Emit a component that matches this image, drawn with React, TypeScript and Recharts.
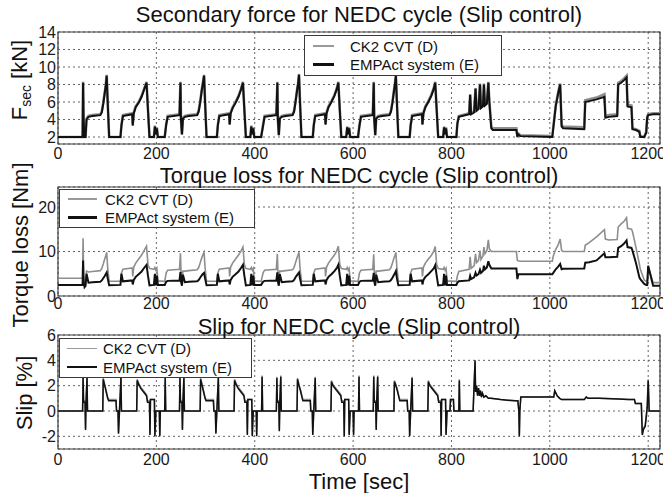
import { LineChart, Line, XAxis, YAxis, CartesianGrid, ReferenceArea } from 'recharts';

const W = 663;
const H = 493;
const FONT = '"Liberation Sans", Arial, Helvetica, sans-serif';
const X_MAX = 1224;
const Y_AXIS_W = 40;
const X_AXIS_H = 20;

const seriesNames = ['CK2 CVT (D)', 'EMPAct system (E)'];
const timeTicks = [0, 200, 400, 600, 800, 1000, 1200];
const forceTicks = [2, 4, 6, 8, 10, 12, 14];
const torqueTicks = [0, 10, 20];
const slipTicks = [-2, 0, 2, 4, 6];

// time axis shared by the force and torque loss plots [s]
const forceTime = [
    0, 50, 51, 52, 54, 56, 58, 62, 70, 86, 89, 92, 95, 97, 99, 101, 104, 127, 129, 132,
    151, 152, 154, 158, 164, 170, 175, 180, 183, 186, 195, 197, 199, 201, 203, 217,
    220, 223, 247, 249, 250, 252, 254, 258, 266, 283, 286, 289, 292, 294, 297, 299, 302, 323, 325, 328,
    348, 349, 351, 355, 361, 367, 372, 376, 379, 382, 391, 393, 395, 397, 399, 413,
    417, 420, 444, 446, 447, 449, 451, 455, 463, 477, 480, 483, 486, 488, 490, 492, 495, 518, 520, 523,
    543, 544, 546, 550, 556, 562, 567, 570, 573, 576, 586, 588, 590, 592, 594, 610,
    613, 616, 640, 642, 643, 645, 647, 651, 659, 674, 677, 680, 683, 685, 687, 689, 692, 715, 717, 720,
    740, 741, 743, 747, 753, 759, 764, 767, 770, 773, 783, 785, 787, 789, 791, 810,
    812, 815, 836, 838, 840, 846, 849, 851, 855, 858, 860, 864, 866, 868, 872, 875, 877, 881, 884, 932,
    934, 936, 940, 1005, 1007, 1012, 1017, 1021, 1024, 1027, 1070, 1072, 1080, 1095, 1111, 1113, 1120, 1137, 1139, 1145,
    1151, 1156, 1158, 1166, 1168, 1175, 1182, 1184, 1192, 1196, 1198, 1200, 1210, 1224,
];

// secondary force [kN]
const forceCk2 = [
    2, 2, 8.3, 4.1, 2.0, 2.0, 4.1, 4.4, 4.5, 4.6, 4.9, 5.9, 7.1, 7.9, 9.1, 6.1, 2.0, 2.0, 3.4, 4.5,
    4.7, 3.4, 4.8, 5.5, 6.0, 6.7, 7.5, 8.3, 5.1, 2.0, 2.0, 3.3, 2.3, 3.1, 2.0, 2.0,
    3.5, 4.4, 4.6, 8.3, 4.1, 2.3, 4.2, 4.4, 4.5, 4.6, 5.0, 6.0, 7.3, 8.0, 9.1, 6.1, 2.0, 2.0, 3.4, 4.5,
    4.7, 3.5, 4.8, 5.4, 6.0, 6.7, 7.5, 8.3, 5.1, 2.0, 2.0, 3.3, 2.3, 3.1, 2.0, 2.0,
    3.4, 4.4, 4.6, 8.3, 4.1, 2.2, 4.2, 4.4, 4.5, 4.6, 5.0, 6.1, 7.4, 8.1, 9.2, 6.1, 2.0, 2.0, 3.4, 4.5,
    4.7, 3.5, 4.8, 5.5, 6.1, 6.8, 7.6, 8.3, 5.1, 2.0, 2.0, 3.2, 2.3, 3.1, 2.0, 2.0,
    3.4, 4.4, 4.6, 8.3, 4.1, 2.2, 4.2, 4.4, 4.5, 4.6, 5.0, 6.0, 7.3, 8.1, 9.1, 6.1, 2.0, 2.0, 3.4, 4.5,
    4.7, 3.5, 4.8, 5.5, 6.1, 6.8, 7.6, 8.3, 5.1, 2.0, 2.0, 3.2, 2.3, 3.1, 2.0, 2.0,
    3.6, 4.4, 4.7, 6.9, 4.7, 4.9, 7.6, 5.1, 5.3, 8.1, 5.4, 5.6, 8.1, 5.7, 5.9, 8.3, 6.1, 3.2, 3.0, 3.0,
    2.1, 2.4, 2.2, 2.1, 3.1, 5.6, 7.1, 8.1, 3.4, 3.2, 3.1, 6.2, 6.3, 6.5, 6.9, 4.4, 4.5, 4.6, 8.2, 8.4,
    8.7, 9.0, 5.7, 5.6, 3.0, 2.9, 2.7, 2.1, 2.0, 2.6, 4.3, 4.6, 4.7, 4.7,
];
const forceEmp = [
    2, 2, 8.2, 4.0, 2.0, 2.0, 4.0, 4.3, 4.4, 4.5, 4.8, 5.8, 7.0, 7.8, 9.0, 6.0, 2.0, 2.0, 3.3, 4.4,
    4.6, 3.3, 4.7, 5.4, 5.9, 6.6, 7.4, 8.2, 5.0, 2.0, 2.0, 3.2, 2.3, 3.0, 2.0, 2.0,
    3.4, 4.3, 4.5, 8.2, 4.0, 2.3, 4.1, 4.3, 4.4, 4.5, 4.9, 5.9, 7.2, 7.9, 9.0, 6.0, 2.0, 2.0, 3.3, 4.4,
    4.6, 3.4, 4.7, 5.3, 5.9, 6.6, 7.4, 8.2, 5.0, 2.0, 2.0, 3.2, 2.3, 3.0, 2.0, 2.0,
    3.3, 4.3, 4.5, 8.2, 4.0, 2.2, 4.1, 4.3, 4.4, 4.5, 4.9, 6.0, 7.3, 8.0, 9.1, 6.0, 2.0, 2.0, 3.3, 4.4,
    4.6, 3.4, 4.7, 5.4, 6.0, 6.7, 7.5, 8.2, 5.0, 2.0, 2.0, 3.1, 2.3, 3.0, 2.0, 2.0,
    3.3, 4.3, 4.5, 8.2, 4.0, 2.2, 4.1, 4.3, 4.4, 4.5, 4.9, 5.9, 7.2, 8.0, 9.0, 6.0, 2.0, 2.0, 3.3, 4.4,
    4.6, 3.4, 4.7, 5.4, 6.0, 6.7, 7.5, 8.2, 5.0, 2.0, 2.0, 3.1, 2.3, 3.0, 2.0, 2.0,
    3.5, 4.3, 4.6, 6.8, 4.6, 4.8, 7.5, 5.0, 5.2, 8.0, 5.3, 5.5, 8.0, 5.6, 5.8, 8.2, 6.0, 3.0, 2.8, 2.8,
    2.0, 2.3, 2.1, 2.0, 3.0, 5.5, 7.0, 8.0, 3.2, 3.0, 2.9, 6.0, 6.1, 6.3, 6.6, 4.2, 4.3, 4.4, 8.0, 8.2,
    8.5, 8.8, 5.5, 5.4, 2.9, 2.8, 2.6, 2.0, 2.0, 2.5, 4.2, 4.5, 4.6, 4.6,
];

// torque loss [Nm]
const torqueCk2 = [
    4.0, 4.0, 13.0, 4.6, 3.2, 3.2, 5.6, 5.4, 5.5, 5.7, 6.2, 7.2, 8.3, 9.0, 9.8, 6.4, 3.3, 3.3, 5.2, 6.0,
    6.3, 4.4, 6.5, 7.4, 8.3, 9.2, 10.2, 11.2, 7.0, 6.2, 6.0, 6.4, 5.8, 6.2, 3.4, 3.3,
    5.2, 5.8, 6.0, 9.6, 5.8, 3.4, 5.6, 5.6, 5.7, 5.9, 6.4, 7.4, 8.5, 9.1, 9.8, 6.4, 3.3, 3.3, 5.2, 6.0,
    6.3, 4.4, 6.5, 7.4, 8.3, 9.2, 10.1, 11.0, 7.0, 6.2, 6.0, 6.4, 5.8, 6.2, 3.4, 3.3,
    5.2, 5.8, 6.0, 9.5, 5.8, 3.4, 5.6, 5.6, 5.7, 5.9, 6.4, 7.5, 8.6, 9.2, 9.8, 6.4, 3.3, 3.3, 5.2, 6.0,
    6.3, 4.4, 6.5, 7.4, 8.3, 9.2, 10.2, 11.2, 7.0, 6.2, 6.0, 6.4, 5.8, 6.2, 3.4, 3.3,
    5.2, 5.8, 6.0, 9.4, 5.8, 3.4, 5.6, 5.6, 5.7, 5.9, 6.4, 7.4, 8.5, 9.1, 9.8, 6.4, 3.3, 3.3, 5.2, 6.0,
    6.3, 4.4, 6.5, 7.4, 8.3, 9.1, 10.1, 11.1, 7.0, 6.2, 6.0, 6.4, 5.8, 6.2, 3.4, 3.3,
    4.5, 5.5, 6.0, 8.8, 6.2, 6.8, 9.5, 7.5, 8.0, 10.2, 8.2, 9.0, 11.0, 9.5, 10.2, 12.6, 10.6, 10.0, 10.0, 10.0,
    8.0, 7.9, 7.8, 7.8, 9.0, 10.5, 11.5, 12.8, 10.2, 10.0, 10.0, 11.4, 12.0, 13.3, 14.9, 12.8, 12.6, 12.7, 15.5, 16.2,
    16.8, 17.6, 15.2, 15.0, 14.5, 11.0, 7.2, 6.0, 3.6, 3.3, 3.2, 6.6, 3.0, 3.0,
];
const torqueEmp = [
    2.5, 2.5, 8.0, 3.2, 2.0, 2.3, 5.0, 3.0, 3.1, 3.2, 3.5, 4.0, 4.5, 4.9, 5.3, 4.0, 2.4, 2.5, 5.0, 3.3,
    3.5, 2.6, 3.6, 4.3, 4.9, 5.5, 6.3, 7.0, 4.5, 2.4, 2.5, 5.0, 2.4, 4.6, 2.5, 2.5,
    3.2, 3.4, 3.5, 5.4, 3.3, 2.3, 4.8, 3.1, 3.2, 3.3, 3.6, 4.1, 4.6, 4.9, 5.2, 4.0, 2.4, 2.5, 5.0, 3.3,
    3.5, 2.6, 3.6, 4.3, 4.9, 5.5, 6.3, 7.0, 4.5, 2.4, 2.5, 5.0, 2.4, 4.6, 2.5, 2.5,
    3.2, 3.4, 3.5, 5.3, 3.3, 2.3, 4.9, 3.1, 3.2, 3.3, 3.6, 4.2, 4.7, 5.0, 5.3, 4.0, 2.4, 2.5, 5.0, 3.3,
    3.5, 2.6, 3.6, 4.3, 4.9, 5.6, 6.3, 7.0, 4.5, 2.4, 2.5, 5.0, 2.4, 4.6, 2.5, 2.5,
    3.2, 3.4, 3.5, 5.2, 3.3, 2.3, 4.8, 3.1, 3.2, 3.3, 3.6, 4.1, 4.7, 5.1, 5.6, 4.0, 2.4, 2.5, 5.0, 3.3,
    3.5, 2.6, 3.6, 4.3, 4.9, 5.6, 6.2, 6.9, 4.5, 2.4, 2.5, 5.0, 2.4, 4.6, 2.5, 2.5,
    3.0, 3.3, 3.5, 4.5, 3.8, 4.2, 5.2, 4.6, 4.9, 5.9, 5.2, 5.6, 6.8, 6.0, 6.4, 7.8, 7.0, 6.2, 6.2, 6.2,
    3.8, 4.9, 4.9, 4.9, 5.2, 6.0, 6.6, 7.2, 6.0, 6.1, 6.2, 7.5, 7.6, 8.0, 9.6, 8.7, 8.7, 8.8, 10.8, 11.2,
    11.8, 12.5, 11.0, 10.8, 10.2, 7.5, 4.2, 3.8, 2.7, 2.5, 2.5, 6.8, 2.3, 2.3,
];

// slip [%]
const slipTime = [
    0, 50, 51, 52, 55, 56, 57, 59, 60, 62, 91, 92, 95, 98, 101, 103, 118, 119, 122, 123,
    125, 128, 129, 131, 160, 161, 164, 168, 172, 176, 180, 182, 186, 187, 188, 196, 197, 199,
    206, 207, 208, 217, 218, 219, 247, 248, 249, 252, 253, 254, 256, 257, 289, 290, 293, 296, 299, 301,
    316, 317, 320, 321, 323, 326, 327, 358, 359, 362, 366, 370, 374, 378, 380, 384, 385, 386, 394, 395, 397,
    403, 404, 405, 414, 415, 416, 444, 445, 446, 449, 450, 451, 453, 454, 486, 487, 490, 493, 496, 498,
    513, 514, 517, 518, 520, 523, 524, 555, 556, 559, 563, 567, 571, 575, 577, 581, 582, 583, 591, 592, 594,
    600, 601, 602, 611, 612, 613, 641, 642, 643, 646, 647, 648, 650, 651, 683, 684, 687, 690, 693, 695,
    710, 711, 714, 715, 717, 720, 721, 752, 753, 756, 760, 764, 768, 772, 774, 778, 779, 780, 788, 789, 791,
    797, 798, 804, 805, 815, 816, 817, 844, 846, 848, 849, 851, 853, 855, 857, 859, 861, 863, 866, 870,
    875, 880, 900, 930, 935, 937, 938, 939, 941, 1005, 1008, 1010, 1015, 1020, 1024, 1070, 1074, 1078, 1100, 1140,
    1160, 1172, 1174, 1186, 1188, 1190, 1194, 1198, 1200, 1202, 1224,
];
const slipCk2 = [
    0, 0, 2.7, 0.8, 0.8, -1.4, 0.8, 2.7, 0, 0, 0, 2.6, 2.1, 1.6, 1.1, 0.9, 0.9, 0, 0, -1.7,
    0, 2.7, 0, 0, 0, 2.5, 2.2, 1.9, 1.7, 1.5, 1.3, 0.8, 0.8, -1.8, 0.9, 0.9, -1.9, 0,
    0, -1.9, 0, 0, 2.7, 0, 0, 2.7, 0.8, 0.8, -1.4, 0.8, 2.7, 0, 0, 2.6, 2.1, 1.6, 1.1, 0.9,
    0.9, 0, 0, -1.7, 0, 2.7, 0, 0, 2.5, 2.2, 1.9, 1.7, 1.5, 1.3, 0.8, 0.8, -1.8, 0.9, 0.9, -1.9, 0,
    0, -1.9, 0, 0, 2.8, 0, 0, 2.7, 0.8, 0.8, -1.5, 0.8, 2.8, 0, 0, 2.6, 2.1, 1.7, 1.2, 0.9,
    0.9, 0, 0, -1.8, 0, 2.7, 0, 0, 2.4, 2.1, 1.9, 1.7, 1.5, 1.3, 0.8, 0.8, -1.9, 0.9, 0.9, -1.8, 0,
    0, -1.8, 0, 0, 2.8, 0, 0, 2.8, 0.8, 0.8, -1.4, 0.8, 2.8, 0, 0, 2.4, 2.1, 1.7, 1.2, 0.9,
    0.9, 0, 0, -1.9, 0, 2.7, 0, 0, 2.4, 2.1, 1.9, 1.7, 1.5, 1.3, 0.8, 0.8, -1.9, 0.9, 0.9, -1.8, 0,
    0, 0.9, 0.9, 0, 0, 2.5, 0, 0, 2.1, 3.9, 1.6, 2.0, 1.3, 1.8, 1.3, 1.6, 1.2, 1.4, 1.1, 1.2,
    1.0, 1.0, 0.9, 0.8, 0.8, 0, -1.9, 0, 1.1, 1.1, 1.1, 1.6, 1.2, 1.0, 0.9, 0.9, 1.1, 1.0, 1.0, 0.95,
    0.9, 0.9, 0.6, 0.6, -1.8, -1.4, -1.1, 0.3, 2.5, 0, 0,
];
const slipEmp = [
    0, 0, 2.6, 0.7, 0.7, -1.5, 0.7, 2.6, 0, 0, 0, 2.5, 2.0, 1.5, 1.0, 0.8, 0.8, 0, 0, -1.8,
    0, 2.6, 0, 0, 0, 2.4, 2.1, 1.8, 1.6, 1.4, 1.2, 0.7, 0.7, -1.9, 0.9, 0.9, -2.0, 0,
    0, -2.0, 0, 0, 2.6, 0, 0, 2.6, 0.7, 0.7, -1.5, 0.7, 2.6, 0, 0, 2.5, 2.0, 1.5, 1.0, 0.8,
    0.8, 0, 0, -1.8, 0, 2.6, 0, 0, 2.4, 2.1, 1.8, 1.6, 1.4, 1.2, 0.7, 0.7, -1.9, 0.9, 0.9, -2.0, 0,
    0, -2.0, 0, 0, 2.7, 0, 0, 2.6, 0.7, 0.7, -1.6, 0.7, 2.7, 0, 0, 2.5, 2.0, 1.6, 1.1, 0.8,
    0.8, 0, 0, -1.9, 0, 2.6, 0, 0, 2.3, 2.0, 1.8, 1.6, 1.4, 1.2, 0.7, 0.7, -2.0, 0.9, 0.9, -1.9, 0,
    0, -1.9, 0, 0, 2.7, 0, 0, 2.7, 0.7, 0.7, -1.5, 0.7, 2.7, 0, 0, 2.3, 2.0, 1.6, 1.1, 0.8,
    0.8, 0, 0, -2.0, 0, 2.6, 0, 0, 2.3, 2.0, 1.8, 1.6, 1.4, 1.2, 0.7, 0.7, -2.0, 0.9, 0.9, -1.9, 0,
    0, 0.9, 0.9, 0, 0, 2.4, 0, 0, 2.0, 4.0, 1.5, 2.0, 1.2, 1.8, 1.2, 1.6, 1.1, 1.4, 1.1, 1.2,
    1.0, 1.0, 0.9, 0.8, 0.8, 0, -2.0, 0, 1.1, 1.1, 1.1, 1.6, 1.2, 1.0, 0.9, 0.9, 1.1, 1.0, 1.0, 0.95,
    0.9, 0.9, 0.6, 0.6, -1.9, -1.5, -1.2, 0.3, 2.4, 0, 0,
];

function toRows(time: number[], ck2: number[], emp: number[]) {
    return time.map((t, i) => ({ t, ck2: ck2[i], emp: emp[i] }));
}

const tickStyle = { fontSize: 16, fill: '#1a1a1a', fontFamily: FONT };

type PanelProps = {
    data: { t: number; ck2: number; emp: number }[];
    top: number;
    bottom: number;
    yDomain: [number, number];
    yTicks: number[];
    xTickMargin: number;
    ck2Width: number;
    empWidth: number;
};

function Panel({ data, top, bottom, yDomain, yTicks, xTickMargin, ck2Width, empWidth }: PanelProps) {
    return (
        <div style={{ position: 'absolute', left: 0, top: 0 }}>
            <LineChart
                width={W}
                height={H}
                data={data}
                margin={{ top, right: W - 660, bottom: H - bottom - X_AXIS_H, left: 58 - Y_AXIS_W }}
            >
                <CartesianGrid stroke="#666" strokeDasharray="2 3" strokeWidth={1} />
                <XAxis
                    type="number"
                    dataKey="t"
                    domain={[0, X_MAX]}
                    ticks={timeTicks}
                    interval={0}
                    allowDataOverflow
                    height={X_AXIS_H}
                    tickSize={0}
                    tickMargin={xTickMargin}
                    axisLine={false}
                    tickLine={false}
                    tick={tickStyle}
                />
                <YAxis
                    type="number"
                    domain={yDomain}
                    ticks={yTicks}
                    interval={0}
                    allowDataOverflow
                    width={Y_AXIS_W}
                    tickSize={0}
                    tickMargin={2}
                    axisLine={false}
                    tickLine={false}
                    tick={tickStyle}
                />
                <ReferenceArea
                    x1={0}
                    x2={X_MAX}
                    y1={yDomain[0]}
                    y2={yDomain[1]}
                    fill="none"
                    stroke="#3a3a3a"
                    strokeWidth={1.2}
                    fillOpacity={0}
                />
                <Line
                    type="linear"
                    dataKey="ck2"
                    stroke="#8e8e8e"
                    strokeWidth={ck2Width}
                    dot={false}
                    isAnimationActive={false}
                />
                <Line
                    type="linear"
                    dataKey="emp"
                    stroke="#111"
                    strokeWidth={empWidth}
                    dot={false}
                    isAnimationActive={false}
                />
            </LineChart>
        </div>
    );
}

type LegendSpec = {
    left: number;
    top: number;
    width: number;
    height: number;
    lineX: number;
    lineLen: number;
    textX: number;
    rowY: number[];
    fontSize: number;
    widths: number[];
};

function LegendBox({ s }: { s: LegendSpec }) {
    const colors = ['#9a9a9a', '#111'];
    const lh = Math.round(s.fontSize * 1.15);
    return (
        <div
            style={{
                position: 'absolute',
                left: s.left,
                top: s.top,
                width: s.width,
                height: s.height,
                border: '1px solid #3a3a3a',
                background: '#fff',
                boxSizing: 'border-box',
            }}
        >
            {seriesNames.map((name, i) => (
                <div key={name}>
                    <div
                        style={{
                            position: 'absolute',
                            left: s.lineX - s.left - 1,
                            top: s.rowY[i] - s.top - 1 - s.widths[i] / 2,
                            width: s.lineLen,
                            height: s.widths[i],
                            background: colors[i],
                        }}
                    />
                    <div
                        style={{
                            position: 'absolute',
                            left: s.textX - s.left - 1,
                            top: s.rowY[i] - s.top - 1 - lh / 2,
                            fontSize: s.fontSize,
                            lineHeight: `${lh}px`,
                            whiteSpace: 'nowrap',
                            color: '#111',
                        }}
                    >
                        {name}
                    </div>
                </div>
            ))}
        </div>
    );
}

function Title({ y, text }: { y: number; text: string }) {
    return (
        <div
            style={{
                position: 'absolute',
                left: 58,
                width: 602,
                top: y - 10,
                textAlign: 'center',
                fontSize: 22,
                lineHeight: '20px',
                color: '#111',
                whiteSpace: 'nowrap',
            }}
        >
            {text}
        </div>
    );
}

function VLabel({ x, y, children }: { x: number; y: number; children: React.ReactNode }) {
    return (
        <div
            style={{
                position: 'absolute',
                left: x,
                top: y,
                transform: 'translate(-50%, -50%) rotate(-90deg)',
                fontSize: 22,
                lineHeight: '26px',
                whiteSpace: 'nowrap',
                color: '#111',
            }}
        >
            {children}
        </div>
    );
}

export default function App() {
    return (
        <div
            style={{
                position: 'absolute',
                left: 0,
                top: 0,
                width: W,
                height: H,
                background: '#fff',
                fontFamily: FONT,
                overflow: 'hidden',
            }}
        >
            <Panel
                data={toRows(forceTime, forceCk2, forceEmp)}
                top={32}
                bottom={144}
                yDomain={[1.2, 14]}
                yTicks={forceTicks}
                xTickMargin={4}
                ck2Width={2.6}
                empWidth={2}
            />
            <Panel
                data={toRows(forceTime, torqueCk2, torqueEmp)}
                top={187}
                bottom={296}
                yDomain={[0, 24.5]}
                yTicks={torqueTicks}
                xTickMargin={2}
                ck2Width={1.6}
                empWidth={2}
            />
            <Panel
                data={toRows(slipTime, slipCk2, slipEmp)}
                top={335}
                bottom={449}
                yDomain={[-3, 6]}
                yTicks={slipTicks}
                xTickMargin={5}
                ck2Width={1.5}
                empWidth={1.5}
            />

            <Title y={15} text="Secondary force for NEDC cycle (Slip control)" />
            <Title y={176} text="Torque loss for NEDC cycle (Slip control)" />
            <Title y={327} text="Slip for NEDC cycle (Slip control)" />

            <VLabel x={23} y={80}>
                <span>
                    F<sub style={{ fontSize: 14, verticalAlign: '-4px' }}>sec</sub> [kN]
                </span>
            </VLabel>
            <VLabel x={21} y={245}>Torque loss [Nm]</VLabel>
            <VLabel x={25} y={393}>Slip [%]</VLabel>

            <div
                style={{
                    position: 'absolute',
                    left: 58,
                    width: 602,
                    top: 469,
                    textAlign: 'center',
                    fontSize: 22,
                    lineHeight: '26px',
                    color: '#111',
                }}
            >
                Time [sec]
            </div>

            <LegendBox
                s={{
                    left: 304,
                    top: 35,
                    width: 198,
                    height: 41,
                    lineX: 313,
                    lineLen: 21,
                    textX: 350,
                    rowY: [46, 64],
                    fontSize: 15,
                    widths: [1.5, 3],
                }}
            />
            <LegendBox
                s={{
                    left: 59,
                    top: 189,
                    width: 196,
                    height: 39,
                    lineX: 68,
                    lineLen: 29,
                    textX: 105,
                    rowY: [199, 217],
                    fontSize: 15,
                    widths: [2, 3],
                }}
            />
            <LegendBox
                s={{
                    left: 59,
                    top: 338,
                    width: 193,
                    height: 40,
                    lineX: 67,
                    lineLen: 30,
                    textX: 103,
                    rowY: [348, 367],
                    fontSize: 15,
                    widths: [1, 2],
                }}
            />
        </div>
    );
}
